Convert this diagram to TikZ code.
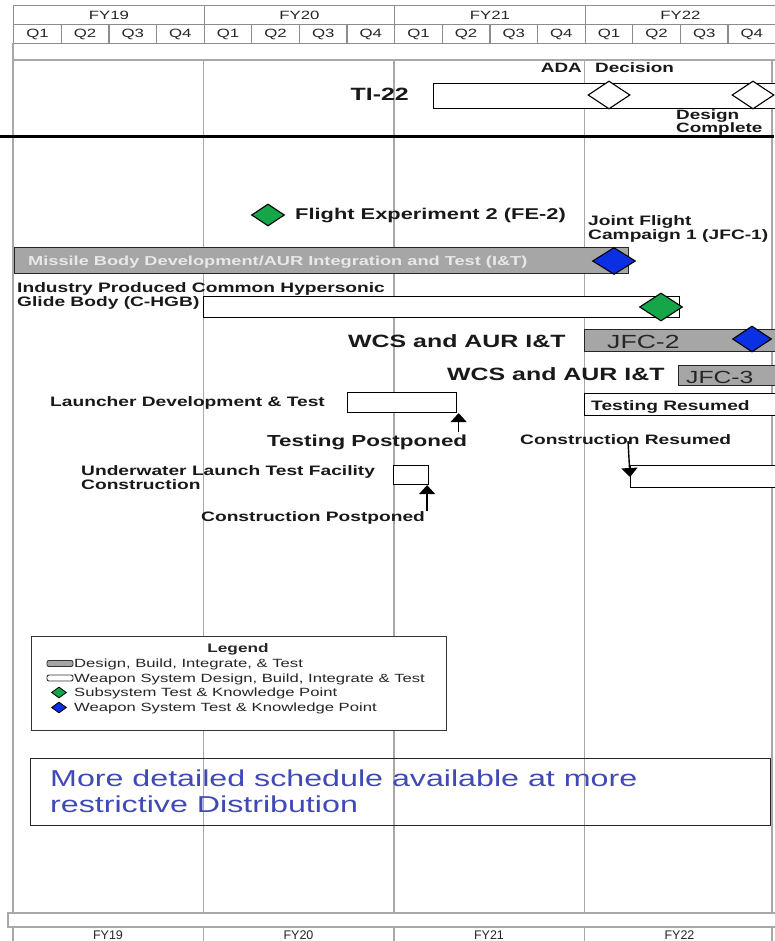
\documentclass[tikz,border=0pt]{standalone}
\usepackage{fontspec}
\setmainfont{Liberation Sans}[FakeStretch=1.4]
\newfontfamily\narrowsf{Liberation Sans}
\usepackage{xcolor}
\usetikzlibrary{shapes.geometric, arrows.meta, positioning}

\definecolor{barfill}{HTML}{A6A6A6}
\definecolor{gridgray}{HTML}{A8A8A8}
\definecolor{hdrgray}{HTML}{8C8C8C}
\definecolor{subgreen}{HTML}{14A648}
\definecolor{wpnblue}{HTML}{0B2FE3}
\definecolor{noteblue}{HTML}{4049B5}
\definecolor{bartext}{HTML}{E8E8E8}

\begin{document}
\begin{tikzpicture}[x=1pt, y=-1pt,
  hcell/.style={rectangle, draw=hdrgray, line width=1.3pt, inner sep=0pt, anchor=north west,
                minimum height=19pt, text=black!85, font=\fontsize{12}{14}\selectfont},
  gridln/.style={draw=gridgray, line width=1.1pt},
  gbar/.style={rectangle, draw=black!85, fill=barfill, line width=1.1pt, inner sep=0pt, anchor=north west},
  wbar/.style={rectangle, draw=black, fill=white, line width=1.1pt, inner sep=0pt, anchor=north west},
  kp/.style={diamond, draw=black, line width=1.1pt, inner sep=0pt, minimum width=42pt, minimum height=28pt},
  kpms/.style={kp, fill=white},
  kpsub/.style={kp, fill=subgreen},
  kpwpn/.style={kp, fill=wpnblue},
  lbl/.style={inner sep=0pt, anchor=base west, text=black!90, font=\bfseries\fontsize{13.7}{14}\selectfont},
  biglbl/.style={lbl, font=\bfseries\fontsize{17.8}{20}\selectfont},
  arr/.style={-{Triangle[length=9pt, width=16pt]}, line width=1.4pt},
  lgdbar/.style={rectangle, draw=black!80, line width=0.9pt, rounded corners=2pt, inner sep=0pt,
                 minimum width=26pt, minimum height=6pt},
  lgd/.style={inner sep=0pt, anchor=base west, text=black!85, font=\fontsize{11.9}{13}\selectfont}
]
\useasboundingbox (0,0) rectangle (774,941);
\fill[white] (0,0) rectangle (774,941);

%% Fiscal year / quarter header
\foreach \yr [count=\i from 0] in {19,20,21,22} {
  \node[hcell, minimum width=190.5pt] (fy\yr) at (13+190.5*\i,5) {FY\yr};
  \foreach \q in {1,...,4}
    \node[hcell, minimum width=47.625pt] (q\yr\q) at (13+190.5*\i+47.625*\q-47.625,24) {Q\q};
}

%% Grid
\draw[gridln] (13,60) -- (790,60);
\draw[gridln] (13,43) -- (13,913);
\foreach \gx in {203.5,394,584.5,772}
  \draw[gridln] (\gx,60) -- (\gx,913);
\draw[gridln] (8,913) rectangle (790,927);
\foreach \gx in {13,203.5,394,584.5,772}
  \draw[gridln] (\gx,927) -- (\gx,950);
\foreach \yr [count=\i from 0] in {19,20,21,22}
  \node[inner sep=0pt, anchor=base, text=black!85, font=\narrowsf\fontsize{12.5}{13}\selectfont] (bfy\yr)
    at (108+190.5*\i,939.5) {FY\yr};

%% TI-22
\node[wbar, minimum width=360pt, minimum height=25pt] (ti22) at (433,83) {};
\node[biglbl, anchor=base east] (ti22lbl) at (409,101) {TI-22};
\node[kpms] (ada) at (609,95) {};
\node[kpms] (dsgn) at (753,95) {};
\node[lbl, anchor=base east, font=\bfseries\fontsize{13.5}{14}\selectfont] (adalbl) at (582,73) {ADA};
\node[lbl, font=\bfseries\fontsize{13.5}{14}\selectfont] (declbl) at (595,73) {Decision};
\node[lbl, anchor=north west, align=left, font=\bfseries\fontsize{13.5}{13}\selectfont] (dsgnlbl)
  at (676,110) {Design\\Complete};
\draw[line width=3pt] (0,137) -- (774,137);

%% Flight experiment and missile body
\node[kpsub, minimum width=33pt, minimum height=22pt] (fe2) at (268,215) {};
\node[lbl, font=\bfseries\fontsize{15.6}{16}\selectfont] (fe2lbl) at (295,219) {Flight Experiment 2 (FE-2)};
\node[lbl, anchor=north west, align=left] (jfc1lbl) at (588,215) {Joint Flight\\Campaign 1 (JFC-1)};
\node[gbar, minimum width=614pt, minimum height=26pt] (mbd) at (14,247) {};
\node[lbl, text=bartext, font=\bfseries\fontsize{13}{14}\selectfont] (mbdlbl) at (28,265)
  {Missile Body Development/AUR Integration and Test (I\&T)};
\node[kpwpn, minimum width=43pt, minimum height=27pt] (jfc1) at (614,261) {};

%% Common hypersonic glide body
\node[lbl, anchor=north west, align=left] (chgblbl) at (17,282) {Industry Produced Common Hypersonic\\Glide Body (C-HGB)};
\node[wbar, minimum width=476pt, minimum height=21pt] (chgb) at (203,296) {};
\node[kpsub, minimum width=43pt, minimum height=28pt] (chgbkp) at (661,307) {};

%% WCS and AUR I&T
\node[biglbl] (wcs2lbl) at (348,347) {WCS and AUR I\&T};
\node[gbar, minimum width=210pt, minimum height=22pt] (jfc2) at (584,329) {};
\node[lbl, text=black!85, font=\fontsize{19}{20}\selectfont] (jfc2lbl) at (607,348) {JFC-2};
\node[kpwpn, minimum width=39pt, minimum height=26pt] (jfc2kp) at (752,339) {};
\node[biglbl] (wcs3lbl) at (447,380) {WCS and AUR I\&T};
\node[gbar, minimum width=120pt, minimum height=20pt] (jfc3) at (678,365) {};
\node[lbl, text=black!85, font=\fontsize{17.6}{18}\selectfont] (jfc3lbl) at (686,383) {JFC-3};

%% Launcher
\node[lbl] (launchlbl) at (50,406) {Launcher Development \& Test};
\node[wbar, minimum width=109pt, minimum height=20pt] (launch) at (347,392) {};
\node[lbl, font=\bfseries\fontsize{16}{17}\selectfont] (tpostlbl) at (267,446) {Testing Postponed};
\draw[arr] ([xshift=1.5pt,yshift=-19pt]launch.south east) -- ([xshift=1.5pt]launch.south east);
\node[wbar, minimum width=210pt, minimum height=22pt] (tres) at (584,393) {};
\node[lbl] (treslbl) at (591,410) {Testing Resumed};

%% Underwater launch test facility
\node[lbl, anchor=north west, align=left] (uwltlbl) at (81,465) {Underwater Launch Test Facility\\Construction};
\node[wbar, minimum width=35pt, minimum height=19pt] (uwlt) at (393,465) {};
\node[lbl] (cpostlbl) at (201,521) {Construction Postponed};
\draw[arr] ([xshift=-2pt,yshift=-26pt]uwlt.south east) -- ([xshift=-2pt]uwlt.south east);
\node[lbl] (creslbl) at (520,444) {Construction Resumed};
\node[wbar, minimum width=160pt, minimum height=22pt] (cres) at (630,465) {};
\draw[arr] ([xshift=-2pt,yshift=24pt]cres.north west) -- ([yshift=-12pt]cres.north west);

%% Legend
\node[draw=black!80, fill=white, line width=1.2pt, inner sep=0pt, anchor=north west,
      minimum width=415pt, minimum height=94pt] (legend) at (31,636) {};
\node[inner sep=0pt, anchor=base, text=black!85, font=\bfseries\fontsize{12.3}{13}\selectfont] (lgdtitle)
  at (238,652) {Legend};
\node[lgdbar, fill=barfill] (lgdg) at (60,663.5) {};
\node[lgd] (lgdgtxt) at (74,667) {Design, Build, Integrate, \& Test};
\node[lgdbar, fill=white] (lgdw) at (60,678) {};
\node[lgd] (lgdwtxt) at (74,682) {Weapon System Design, Build, Integrate \& Test};
\node[kpsub, line width=0.8pt, minimum width=15pt, minimum height=11pt] (lgds) at (59,692.5) {};
\node[lgd] (lgdstxt) at (74,696) {Subsystem Test \& Knowledge Point};
\node[kpwpn, line width=0.8pt, minimum width=15pt, minimum height=11pt] (lgdb) at (59,707.5) {};
\node[lgd] (lgdbtxt) at (74,711) {Weapon System Test \& Knowledge Point};

%% Distribution note
\node[draw=black!85, line width=1.3pt, inner sep=0pt, anchor=north west,
      minimum width=740pt, minimum height=67pt] (note) at (30,758) {};
\node[inner sep=0pt, anchor=north west, align=left, text=noteblue, font=\fontsize{23}{26}\selectfont] (notetxt)
  at (50,770) {More detailed schedule available at more\\restrictive Distribution};
\end{tikzpicture}
\end{document}
